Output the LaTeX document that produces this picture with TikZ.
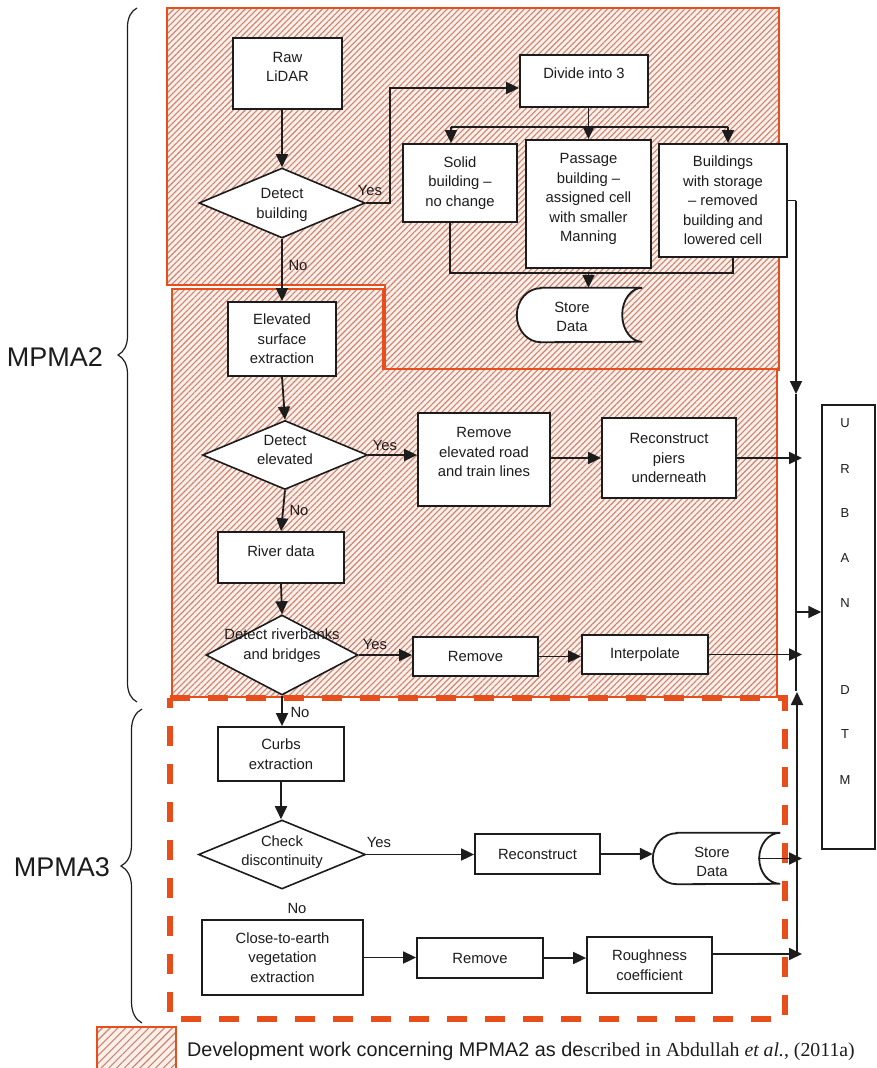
\documentclass[tikz,border=0pt]{standalone}
\usepackage{fontspec}
\setmainfont{Liberation Sans}
\newfontfamily\refserif{Liberation Serif}
\usetikzlibrary{arrows.meta,shapes.geometric,patterns.meta,decorations.pathreplacing,calc}
\definecolor{mporange}{HTML}{E84E1B}
\definecolor{hatchln}{HTML}{CC8470}
\definecolor{hatchbg}{HTML}{FBEFE9}
\definecolor{ink}{HTML}{1C1C1C}
\begin{document}
\begin{tikzpicture}[x=1pt,y=-1pt,
  every node/.style={inner sep=0pt, text=ink, font=\fontsize{14.8}{19.5}\selectfont},
  wh/.style 2 args={minimum width=#1pt, minimum height=#2pt},
  box/.style={rectangle, draw=ink, fill=white, line width=1.8pt},
  dia/.style={diamond, draw=ink, fill=white, line width=1.6pt},
  txt/.style={align=center},
  ln/.style={draw=ink, line width=1.8pt},
  arr/.style={ln, -{Triangle[length=13pt,width=12pt]}},
  hatched/.style={preaction={fill=hatchbg}, pattern={Lines[angle=45,distance=4.2pt,line width=1.1pt]}, pattern color=hatchln, draw=mporange, line width=1.8pt},
  yn/.style={font=\fontsize{14.8}{17}\selectfont},
  brc/.style={draw=ink, line width=1.2pt, decorate},
  urb/.style={font=\fontsize{13}{15}\selectfont},
]
\useasboundingbox (0,0) rectangle (876,1068);

% shaded MPMA2 development areas
\path[hatched] (167,8) -- (779,8) -- (779,370) -- (385,370) -- (385,285) -- (167,285) -- cycle;
\path[hatched] (172,289) -- (383,289) -- (383,369) -- (777,369) -- (777,697) -- (172,697) -- cycle;
% MPMA3 frame
\draw[mporange, line width=5.5pt, dash pattern=on 20pt off 18pt] (170,698) -- (785,698) -- (785,1019) -- (170,1019) -- cycle;

% ---- building branch
\node[box, wh={109}{71}] (raw) at (287.5,73.5) {};
\node[txt] (rawT) at (287.5,67) {Raw\\LiDAR};
\node[dia, wh={166}{70}] (detb) at (282,203) {};
\node[txt] (detbT) at (282,205) {Detect\\building};
\node[box, wh={128}{52}] (div) at (584,81) {};
\node (divT) at (584,73) {Divide into 3};
\node[box, txt, wh={114}{78}] (solid) at (460,183) {Solid\\building –\\no change};
\node[box, wh={125}{128}] (pass) at (588.5,204) {};
\node[txt] (passT) at (588.5,199) {Passage\\building –\\assigned cell\\with smaller\\Manning};
\node[box, txt, wh={128}{113}] (stor) at (723,200.5) {Buildings\\with storage\\– removed\\building and\\lowered cell};
\node[wh={125}{54}] (sdA) at (579.5,315) {};
\draw[ln, fill=white] ([xshift=24pt]sdA.north west) -- (sdA.north east)
  arc[start angle=90, end angle=270, x radius=20pt, y radius=27pt]
  -- ([xshift=24pt]sdA.south west)
  arc[start angle=270, end angle=90, x radius=24pt, y radius=27pt] -- cycle;
\node[txt] (sdAT) at (572,317) {Store\\Data};

% ---- elevated surfaces and rivers
\node[box, txt, wh={108}{74}] (elev) at (282,339) {Elevated\\surface\\extraction};
\node[dia, wh={165}{69}] (dete) at (285,455) {};
\node[txt] (deteT) at (285,450) {Detect\\elevated};
\node[box, wh={132}{93}] (remel) at (484,459.5) {};
\node[txt] (remelT) at (484,452) {Remove\\elevated road\\and train lines};
\node[box, txt, wh={134}{80}] (recon) at (669,458) {Reconstruct\\piers\\underneath};
\node[box, wh={126}{51}] (river) at (281,557.5) {};
\node (riverT) at (281,551) {River data};
\node[dia, wh={152}{80}] (detr) at (282,655) {};
\node[txt] (detrT) at (282,645.5) {Detect riverbanks\\and bridges};
\node[box, wh={125}{39}] (remv) at (475.5,656.5) {Remove};
\node[box, wh={126}{39}] (interp) at (645,654.5) {Interpolate};

% ---- MPMA3 steps
\node[box, txt, wh={126}{54}] (curbs) at (281,754) {Curbs\\extraction};
\node[dia, wh={167}{69}] (chk) at (282,854.5) {};
\node[txt] (chkT) at (282,852) {Check\\discontinuity};
\node[box, wh={125}{40}] (recons) at (537.5,854) {Reconstruct};
\node[wh={127}{51}] (sdB) at (716.5,858.5) {};
\draw[ln, fill=white] ([xshift=24pt]sdB.north west) -- (sdB.north east)
  arc[start angle=90, end angle=270, x radius=21pt, y radius=25.5pt]
  -- ([xshift=24pt]sdB.south west)
  arc[start angle=270, end angle=90, x radius=24pt, y radius=25.5pt] -- cycle;
\node[txt] (sdBT) at (712,862) {Store\\Data};
\node[box, txt, wh={161}{75}] (veg) at (282.5,957.5) {Close-to-earth\\vegetation\\extraction};
\node[box, wh={126}{40}] (remv2) at (480,958) {Remove};
\node[box, txt, wh={125}{56}] (rough) at (649.5,965) {Roughness\\coefficient};

% ---- output
\node[box, wh={53}{444}, line width=1.5pt] (urban) at (848.5,627) {};
\foreach \l/\yy [count=\i] in {U/423,R/469,B/513,A/558,N/603,D/690,T/734,M/780}
  \node[urb] (ul\i) at (845,\yy) {\l};

% ---- connectors
\coordinate (brL) at (451,127);
\coordinate (brR) at (728,127);
\coordinate (jn) at (588.5,273);
\coordinate (bTop) at (796,200.5);
\coordinate (bMid) at (796,394);
\coordinate (bEnd) at (796,691);
\coordinate (uIn) at (796,612);
\coordinate (tipx) at (802,0);
\coordinate (rOut) at ([yshift=11pt]rough.east);
\coordinate (cBot) at (797,954);
\coordinate (cTop) at (797,692);

\draw[arr] (raw.south -| detb.north) -- (detb.north);
\draw[arr] (detb.east) -- ++(24,0) |- ($(div.west)+(0,7)$);
\draw[ln] (brL) -- (brR);
\draw[arr] (div.south -| pass.north) -- (pass.north);
\draw[arr] (brL) -- (brL |- solid.north);
\draw[arr] (brR) -- (brR |- stor.north);
\draw[ln] ([xshift=-10pt]solid.south) |- (jn) -| ([xshift=10pt]stor.south);
\draw[arr] (jn) -- (jn |- sdA.north);
\draw[ln] (stor.east) -- (bTop);
\draw[arr] (bTop) -- (bMid);
\draw[ln] (bMid) -- (bEnd);

\draw[arr] (detb.south) -- (elev.north);
\draw[arr] (elev.south) -- (dete.north);
\draw[arr] (dete.east) -- (dete.east -| remel.west);
\draw[arr] (remel.east |- recon.west) -- (recon.west);
\draw[arr] (recon.east) -- (recon.east -| tipx);
\draw[arr] (dete.south) -- (river.north);
\draw[arr] (river.south) -- (detr.north);
\draw[arr] (detr.east) -- (detr.east -| remv.west);
\draw[arr] (remv.east) -- (remv.east -| interp.west);
\draw[arr] (interp.east) -- (interp.east -| tipx);
\draw[arr] (uIn) -- (uIn -| urban.west);

\draw[arr] (detr.south) -- (detr.south |- curbs.north);
\draw[arr] (curbs.south) -- (curbs.south |- chk.north);
\draw[arr] (chk.east) -- (chk.east -| recons.west);
\draw[arr] (recons.east) -- (recons.east -| sdB.west);
\draw[arr] ([xshift=-22pt]sdB.east) -- (sdB.east -| tipx);
\draw[arr] (veg.east) -- (veg.east -| remv2.west);
\draw[arr] (remv2.east) -- (remv2.east -| rough.west);
\draw[arr] (rOut) -- (rOut -| tipx);
\draw[arr] (cBot) -- (cTop);

% ---- decision labels
\node[yn] (y1) at (370,190) {Yes};
\node[yn] (n1) at (298,265) {No};
\node[yn] (y2) at (385,445) {Yes};
\node[yn] (n2) at (299,510) {No};
\node[yn] (y3) at (375,644) {Yes};
\node[yn] (n3) at (300,712) {No};
\node[yn] (y4) at (379,842) {Yes};
\node[yn] (n4) at (297,908) {No};

% ---- braces and stage names
\draw[brc, decoration={brace, amplitude=19pt}] (137,702) -- (137,8);
\draw[brc, decoration={brace, amplitude=21pt}] (142,1023) -- (142,709);
\node[font=\fontsize{27}{30}\selectfont] (m2) at (55,357) {MPMA2};
\node[font=\fontsize{27}{30}\selectfont] (m3) at (62,867) {MPMA3};

% ---- legend
\path[hatched, pattern={Lines[angle=45,distance=5.5pt,line width=1.1pt]}] (97,1027) rectangle (176,1072);
\node[anchor=base west, font=\fontsize{19.8}{22}\selectfont] (leg) at (187,1056)
  {Development work concerning MPMA2 as de{\refserif scribed in Abdullah \textit{et al.}, (2011a)}};
\end{tikzpicture}
\end{document}
